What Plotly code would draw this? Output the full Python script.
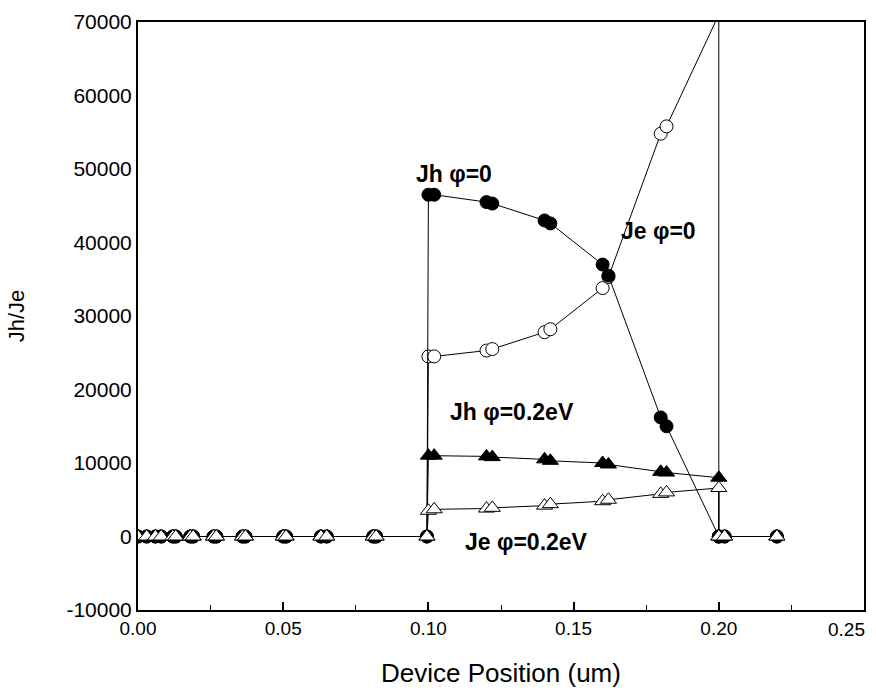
import plotly.graph_objects as go

# baseline mesh (x < 0.1) where all currents are ~0
x_base = [0.0, 0.003, 0.006, 0.008, 0.012, 0.013, 0.018, 0.019, 0.026, 0.027,
          0.036, 0.037, 0.05, 0.051, 0.063, 0.065, 0.081, 0.082, 0.0995]
y_base = [0] * len(x_base)

x_dev = [0.1, 0.102, 0.12, 0.122, 0.14, 0.142, 0.16, 0.162, 0.18, 0.182, 0.2]
x_tail = [0.2, 0.202, 0.22]
y_tail = [0, 0, 0]

jh_phi0 = [46500, 46500, 45500, 45300, 43000, 42600, 37000, 35500, 16200, 15000, 0]
je_phi0 = [24500, 24500, 25300, 25500, 27800, 28200, 33800, 35300, 54800, 55800, 71000]
jh_phi02 = [11000, 11000, 10900, 10800, 10500, 10300, 10000, 9800, 8800, 8700, 8000]
je_phi02 = [3500, 3700, 3800, 3900, 4200, 4400, 4800, 5000, 5800, 6000, 6600]

y_ticks = [-10000, 0, 10000, 20000, 30000, 40000, 50000, 60000, 70000]
y_ticktext = [str(v) for v in y_ticks]
x_ticks = [0.0, 0.05, 0.10, 0.15, 0.20, 0.25]
x_ticktext = ["0.00", "0.05", "0.10", "0.15", "0.20", ""]

# drawing order: open circles, filled circles, filled triangles, open triangles
series = [
    ("Je φ=0", je_phi0, "circle", "white", 13),
    ("Jh φ=0", jh_phi0, "circle", "black", 13),
    ("Jh φ=0.2eV", jh_phi02, "triangle-up", "black", 14),
    ("Je φ=0.2eV", je_phi02, "triangle-up", "white", 14),
]

fig = go.Figure()
for name, ys, sym, col, sz in series:
    xs = x_base + x_dev + x_tail
    yv = y_base + ys + y_tail
    marker = dict(symbol=sym, size=sz, color=col, line=dict(color="black", width=1))
    fig.add_trace(go.Scatter(x=xs, y=yv, mode="lines+markers", name=name,
                             line=dict(color="black", width=1), marker=marker,
                             showlegend=False))

labels = [
    ("Jh φ=0", 0.1089, 49300),
    ("Je φ=0", 0.1793, 41600),
    ("Jh φ=0.2eV", 0.1288, 17000),
    ("Je φ=0.2eV", 0.1339, -700),
]
for t, x, y in labels:
    fig.add_annotation(x=x, y=y, text="<b>" + t + "</b>", showarrow=False,
                       font=dict(family="Liberation Sans, Arial", size=23, color="black"))

# last x tick label is pulled inside the page, as in the original
fig.add_annotation(x=x_ticks[-1], y=0, yref="paper", text="0.25", showarrow=False,
                   xanchor="right", yanchor="top", xshift=3, yshift=-7,
                   font=dict(family="Liberation Sans, Arial", size=19, color="black"))

fig.update_layout(
    width=876, height=693,
    margin=dict(l=138, r=10, t=10, b=65),
    paper_bgcolor="white", plot_bgcolor="white",
    font=dict(family="Liberation Sans, Arial", size=19, color="black"),
)
fig.update_xaxes(range=[0, 0.25], tickmode="array", tickvals=x_ticks, ticktext=x_ticktext,
                 tickfont=dict(size=19),
                 showline=True, linecolor="black", linewidth=2, mirror=True,
                 ticks="inside", ticklen=8, tickwidth=2, tickcolor="black",
                 minor=dict(tickvals=[0.025, 0.075, 0.125, 0.175, 0.225], ticks="inside",
                            ticklen=5, tickwidth=1, tickcolor="black"),
                 showgrid=False, zeroline=False,
                 title=dict(text="Device Position (um)", font=dict(size=26), standoff=26))
fig.update_yaxes(range=[-10000, 70000], tickmode="array", tickvals=y_ticks, ticktext=y_ticktext,
                 tickfont=dict(size=21),
                 showline=True, linecolor="black", linewidth=2, mirror=True,
                 ticks="", showgrid=False, zeroline=False,
                 title=dict(text="Jh/Je", font=dict(size=22), standoff=36))

fig.write_html("out.html")
